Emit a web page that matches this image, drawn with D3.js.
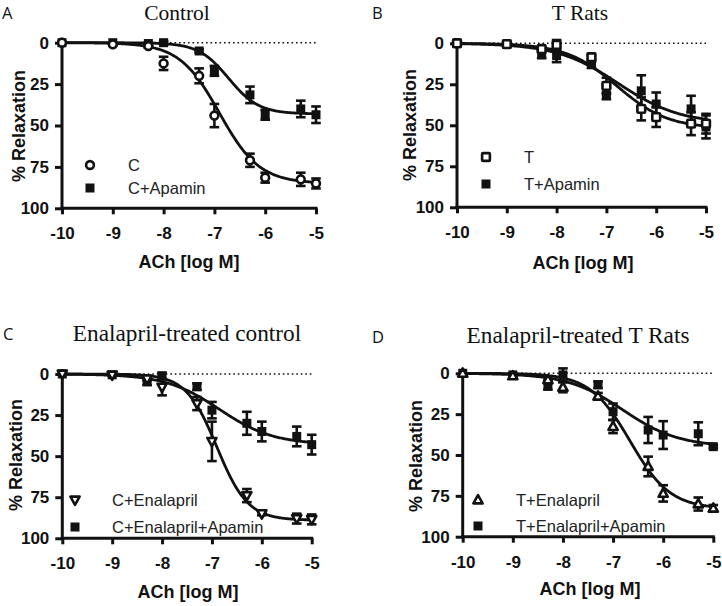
<!DOCTYPE html>
<html><head><meta charset="utf-8">
<script src="https://cdn.jsdelivr.net/npm/d3@7"></script>
<style>body{margin:0;background:#fff}svg{display:block}</style>
</head><body>
<svg id="chart" width="722" height="606"></svg>
<script>
// ---- data ----
const logACh = [-10, -9, -8.3, -8, -7.3, -7, -6.3, -6, -5.3, -5];
const xTicks = [-10, -9, -8, -7, -6, -5];
const yTicks = [0, 25, 50, 75, 100];
const panelLetters = ["A", "B", "C", "D"];
const panelTitles = ["Control", "T Rats", "Enalapril-treated control", "Enalapril-treated T Rats"];
const xAxisTitle = "ACh [log M]";
const yAxisTitle = "% Relaxation";

const controlC            = [0, 1, 2, 12.5, 20, 44, 71, 81.5, 82.5, 85];
const controlCSem         = [0, 0.5, 1, 4, 4.5, 7, 4, 3, 4, 3];
const controlApamin       = [0, 0, 0.5, 0, 5, 17, 31.5, 43.5, 40, 43.5];
const controlApaminSem    = [0, 0, 0.5, 1, 1, 3, 5, 3, 5, 5];
const tRats               = [0, 0.5, 3.5, 1, 8.5, 26, 40, 45, 49, 49];
const tRatsSem            = [0, 1, 1, 3, 2, 5, 7, 6, 7, 6];
const tApamin             = [0, 0.5, 7, 7.5, 13, 32, 29, 37, 40, 51];
const tApaminSem          = [0, 1, 2, 4, 2, 2, 9.5, 7, 8, 7];
const cEnal               = [0, 0.6, 3, 8, 18, 41, 74, 85, 88, 88.5];
const cEnalSem            = [0, 0.5, 1, 5, 4, 12, 4, 1, 3, 3];
const cEnalApamin         = [0, 0.5, 4.7, 1.2, 7.7, 22, 30, 35, 38, 43];
const cEnalApaminSem      = [0, 0.5, 2, 2, 2, 5, 7, 6, 6, 6];
const tEnal               = [0, 1.6, 4, 8.6, 14, 32.6, 57, 73.5, 80, 82.6];
const tEnalSem            = [0, 0.5, 2, 3, 2, 4, 6, 5, 4, 2];
const tEnalApamin         = [0, 1, 7, 1, 7, 23.5, 34.7, 37.8, 37, 44.9];
const tEnalApaminSem      = [0, 0.5, 3, 4, 2, 5, 8, 8.5, 7, 1];

// sigmoidal fit parameters: [top, logEC50, hill]
const fitControlC       = [85, -6.9, 1.1];
const fitControlApamin  = [43, -6.72, 1.46];
const fitTRats          = [52, -6.79, 0.85];
const fitTApamin        = [49, -6.76, 0.7];
const fitCEnal          = [89, -6.9, 1.4];
const fitCEnalApamin    = [43, -6.85, 0.8];
const fitTEnal          = [83, -6.66, 1.08];
const fitTEnalApamin    = [45, -6.8, 0.78];

const legendNames = [["C", "C+Apamin"], ["T", "T+Apamin"], ["C+Enalapril", "C+Enalapril+Apamin"], ["T+Enalapril", "T+Enalapril+Apamin"]];
const markerTypes = [["circle", "fsquare"], ["osquare", "fsquare"], ["itri", "fsquare"], ["tri", "fsquare"]];

const panelSeries = [
  [[controlC, controlCSem, fitControlC], [controlApamin, controlApaminSem, fitControlApamin]],
  [[tRats, tRatsSem, fitTRats], [tApamin, tApaminSem, fitTApamin]],
  [[cEnal, cEnalSem, fitCEnal], [cEnalApamin, cEnalApaminSem, fitCEnalApamin]],
  [[tEnal, tEnalSem, fitTEnal], [tEnalApamin, tEnalApaminSem, fitTEnalApamin]]
];

// ---- layout ----
const layout = [
  {l: 62, r: 316, t: 42.7, b: 208.3, letter: [2, 19], title: [177, 20], tsize: 21.5, ylab: [25, 126], xlab: [189, 268], leg: [90, 128, 165, 188]},
  {l: 457, r: 706, t: 43.3, b: 207.3, letter: [372, 19], title: [580, 20], tsize: 21.5, ylab: [416, 125], xlab: [583, 269], leg: [486, 524, 157, 184]},
  {l: 62.3, r: 311.7, t: 374, b: 538.3, letter: [3, 340], title: [187, 341], tsize: 23.3, ylab: [22, 455], xlab: [188, 598], leg: [75, 112, 500, 527]},
  {l: 462.7, r: 713.3, t: 373.3, b: 536.7, letter: [372, 343], title: [578, 343], tsize: 23.3, ylab: [422, 456], xlab: [590, 595], leg: [478, 516, 500, 526]}
];

const svg = d3.select("#chart");
const ink = "#111";

function drawMarker(g, type, x, y) {
  const sw = 2.6;
  if (type === "circle") {
    g.append("circle").attr("cx", x).attr("cy", y).attr("r", 3.9)
      .attr("fill", "#fff").attr("stroke", ink).attr("stroke-width", sw);
  } else if (type === "fsquare") {
    g.append("rect").attr("x", x - 4.5).attr("y", y - 4.5).attr("width", 9).attr("height", 9).attr("fill", ink);
  } else if (type === "osquare") {
    g.append("rect").attr("x", x - 3.9).attr("y", y - 3.9).attr("width", 7.8).attr("height", 7.8)
      .attr("rx", 1).attr("fill", "#fff").attr("stroke", ink).attr("stroke-width", sw);
  } else if (type === "tri" || type === "itri") {
    const s = type === "tri" ? 1 : -1;
    const pts = [[x, y - 4.9 * s], [x - 4.6, y + 3.4 * s], [x + 4.6, y + 3.4 * s]];
    g.append("path").attr("d", "M" + pts.map(p => p.join(",")).join("L") + "Z")
      .attr("fill", "#fff").attr("stroke", ink).attr("stroke-width", sw).attr("stroke-linejoin", "round");
  }
}

layout.forEach((L, pi) => {
  const g = svg.append("g");
  const x = d3.scaleLinear().domain([-10, -5]).range([L.l, L.r]);
  const y = d3.scaleLinear().domain([0, 100]).range([L.t, L.b]);

  // panel letter & title
  g.append("text").attr("x", L.letter[0]).attr("y", L.letter[1]).text(panelLetters[pi])
    .attr("font-family", "'Open Sans', sans-serif").attr("font-size", 16.5).attr("fill", ink);
  g.append("text").attr("x", L.title[0]).attr("y", L.title[1]).text(panelTitles[pi])
    .attr("text-anchor", "middle").attr("font-family", "'Liberation Serif', serif").attr("font-size", L.tsize).attr("fill", ink);

  // dotted baseline at 0
  g.append("line").attr("x1", x(-10)).attr("x2", x(-5)).attr("y1", y(0)).attr("y2", y(0))
    .attr("stroke", ink).attr("stroke-width", 1.6).attr("stroke-dasharray", "1.6,2.9");

  // axes
  const yAx = g.append("g").attr("transform", `translate(${L.l},0)`)
    .call(d3.axisLeft(y).tickValues(yTicks).tickSize(7).tickPadding(6).tickFormat(d3.format("d")));
  yAx.select(".domain").remove();
  yAx.append("line").attr("x1", 0).attr("x2", 0).attr("y1", y(0) - 5).attr("y2", y(100) + 1.5)
    .attr("stroke", ink).attr("stroke-width", 3);
  const xAx = g.append("g").attr("transform", `translate(0,${L.b})`)
    .call(d3.axisBottom(x).tickValues(xTicks).tickSize(6).tickPadding(13).tickFormat(d3.format("d")));
  xAx.select(".domain").remove();
  xAx.append("line").attr("x1", L.l - 1.5).attr("x2", L.r + 1.5).attr("y1", 0).attr("y2", 0)
    .attr("stroke", ink).attr("stroke-width", 3);
  [yAx, xAx].forEach(a => {
    a.selectAll(".tick line").attr("stroke", ink).attr("stroke-width", 3);
    a.selectAll(".tick text").attr("fill", ink).attr("font-family", "'Liberation Sans', Arial, sans-serif")
      .attr("font-weight", "bold").attr("font-size", 17);
  });
  xAx.selectAll(".tick text").text(d => d3.format("d")(d).replace("\u2212", "-"));

  // axis titles
  g.append("text").attr("transform", `translate(${L.ylab[0]},${L.ylab[1]}) rotate(-90)`)
    .attr("text-anchor", "middle").text(yAxisTitle)
    .attr("font-family", "'Liberation Sans', Arial, sans-serif").attr("font-weight", "bold").attr("font-size", 18).attr("fill", ink);
  g.append("text").attr("x", L.xlab[0]).attr("y", L.xlab[1]).attr("text-anchor", "middle").text(xAxisTitle)
    .attr("font-family", "'Liberation Sans', Arial, sans-serif").attr("font-weight", "bold").attr("font-size", 18).attr("fill", ink);

  // fitted curves
  const line = d3.line().x(d => x(d[0])).y(d => y(d[1]));
  const xs = d3.range(-10, -4.999, 0.02);
  panelSeries[pi].forEach(s => {
    const [top, ec, hill] = s[2];
    const pts = xs.map(v => [v, top / (1 + Math.pow(10, hill * (ec - v)))]);
    g.append("path").attr("d", line(pts)).attr("fill", "none").attr("stroke", ink).attr("stroke-width", 2.8);
  });

  // error bars & markers (filled series first, open on top)
  [1, 0].forEach(si => {
    const [vals, sem] = panelSeries[pi][si];
    vals.forEach((v, i) => {
      const cx = x(logACh[i]);
      if (sem[i] > 0) {
        const y1 = y(v - sem[i]), y2 = y(v + sem[i]);
        g.append("line").attr("x1", cx).attr("x2", cx).attr("y1", y1).attr("y2", y2).attr("stroke", ink).attr("stroke-width", 2.6);
        [y1, y2].forEach(yy => g.append("line").attr("x1", cx - 4.8).attr("x2", cx + 4.8).attr("y1", yy).attr("y2", yy)
          .attr("stroke", ink).attr("stroke-width", 2.6));
      }
      drawMarker(g, markerTypes[pi][si], cx, y(v));
    });
  });

  // legend
  [0, 1].forEach(si => {
    const ly = L.leg[2 + si];
    drawMarker(g, markerTypes[pi][si], L.leg[0], ly);
    g.append("text").attr("x", L.leg[1]).attr("y", ly).attr("dy", "0.36em").text(legendNames[pi][si])
      .attr("font-family", "'Liberation Sans', Arial, sans-serif").attr("font-size", 16.5).attr("fill", "#222");
  });
});
</script>
</body></html>
